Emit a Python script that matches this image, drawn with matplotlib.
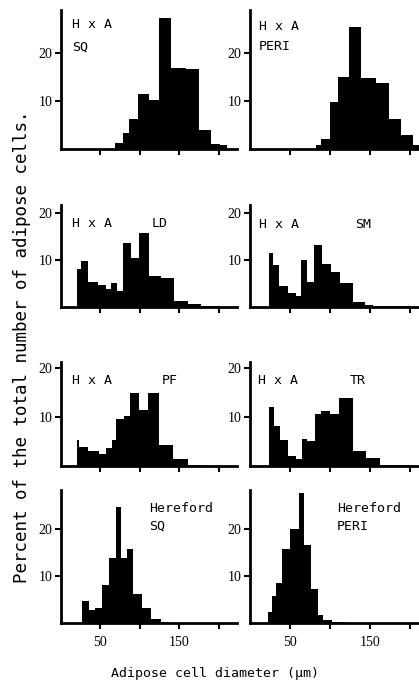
import matplotlib
matplotlib.use('Agg')
from matplotlib import pyplot as plt

FIG_W = 419
FIG_H = 685

# Bin edges (um) and percent of cells for every panel.
hxa_sq_edges = [68, 78.5, 86, 98, 111, 124, 139, 158.5, 175, 190, 201, 210]
hxa_sq_pct = [1.2, 3.3, 6.3, 11.4, 10.3, 27.4, 17.0, 16.6, 4.0, 1.0, 0.8]

hxa_peri_edges = [82, 89, 100, 110, 124, 139, 157.5, 174, 189, 203, 212]
hxa_peri_pct = [0.9, 2.0, 9.8, 15.0, 25.4, 14.9, 13.85, 6.2, 3.0, 0.9]

hxa_ld_edges = [20, 25.6, 34, 47, 56.4, 62.8, 70.5, 79, 88.5, 98.3, 111, 127, 142.7, 161, 178, 202]
hxa_ld_pct = [8.0, 9.8, 5.3, 4.7, 3.9, 5.1, 3.3, 13.7, 10.35, 15.8, 6.6, 6.1, 1.2, 0.6, 0.3]

hxa_sm_edges = [23.2, 29.1, 36.6, 47, 57.5, 63.8, 71, 80.5, 90.2, 101.5, 112, 128, 144, 154, 200]
hxa_sm_pct = [11.5, 8.85, 4.5, 2.9, 2.4, 9.9, 5.4, 13.1, 9.2, 7.5, 5.2, 1.05, 0.35, 0.2]

hxa_pf_edges = [20, 23, 34, 48.7, 56.4, 64, 70, 80.3, 87.2, 99, 110.3, 124.8, 141.9, 161, 178]
hxa_pf_pct = [5.4, 3.9, 3.1, 2.5, 3.6, 5.4, 9.5, 10.2, 14.9, 11.5, 14.9, 4.3, 1.5, 0.3]

hxa_tr_edges = [24, 29.4, 37.4, 47.9, 57.6, 65.1, 71, 80.7, 88.2, 99.6, 110.9, 128.2, 144.5, 162.6, 200]
hxa_tr_pct = [12.1, 8.2, 5.2, 2.0, 1.5, 5.6, 5.1, 10.5, 11.3, 10.5, 13.8, 3.1, 1.7, 0.25]

her_sq_edges = [26.8, 36, 42.8, 52, 61.4, 70, 76.6, 83.8, 91, 102.7, 114.6, 127, 136.5]
her_sq_pct = [4.7, 2.7, 3.2, 8.1, 13.9, 24.6, 13.8, 15.8, 6.1, 3.2, 0.85, 0.3]

her_peri_edges = [23, 27, 33, 39.6, 50, 61.25, 67.5, 75.8, 85, 91.7, 103, 120]
her_peri_pct = [2.4, 5.8, 8.6, 15.7, 20.0, 27.7, 16.5, 7.2, 1.65, 0.7, 0.25]

x_ticks = [50, 100, 150, 200]
x_tick_labels = ['50', '', '150', '']
y_ticks = [10, 20]

# Panel labels: (line 1, line 2 or None, tissue tag or None)
panel_text = [
    ('H x A', 'SQ', None), ('H x A', 'PERI', None),
    ('H x A', None, 'LD'), ('H x A', None, 'SM'),
    ('H x A', None, 'PF'), ('H x A', None, 'TR'),
    ('Hereford', 'SQ', None), ('Hereford', 'PERI', None),
]

MONO = 'DejaVu Sans Mono'
SERIF = 'Liberation Serif'


def px_axes(fig, x0, x1, ytop, ybot):
    """Add axes from pixel coordinates (origin top-left)."""
    return fig.add_axes([x0 / FIG_W, 1 - ybot / FIG_H, (x1 - x0) / FIG_W, (ybot - ytop) / FIG_H])


def ftext(fig, x, y, s, **kw):
    fig.text(x / FIG_W, 1 - y / FIG_H, s, **kw)


fig = plt.figure(figsize=(FIG_W / 100, FIG_H / 100), dpi=100)

# pixel geometry of the rows: (top, baseline, ymax)
rows = [(10, 149, 29.0), (205, 307, 21.7), (362, 466, 21.2), (490, 623, 28.3)]
cols = [(61, 237, 223), (250, 419, 211)]

data = [
    (hxa_sq_edges, hxa_sq_pct), (hxa_peri_edges, hxa_peri_pct),
    (hxa_ld_edges, hxa_ld_pct), (hxa_sm_edges, hxa_sm_pct),
    (hxa_pf_edges, hxa_pf_pct), (hxa_tr_edges, hxa_tr_pct),
    (her_sq_edges, her_sq_pct), (her_peri_edges, her_peri_pct),
]

for i, (edges, pct) in enumerate(data):
    r, c = divmod(i, 2)
    top, base, ymax = rows[r]
    x0, x1, xmax = cols[c]
    ax = px_axes(fig, x0, x1, top, base)
    ax.stairs(pct, edges, fill=True, color='black', linewidth=0)
    ax.set_xlim(0, xmax)
    ax.set_ylim(0, ymax)
    for side in ['top', 'right']:
        ax.spines[side].set_visible(False)
    for side in ['left', 'bottom']:
        ax.spines[side].set_linewidth(2)
    ax.set_xticks(x_ticks)
    if r == 3:
        ax.set_xticklabels(x_tick_labels, fontsize=10, family=SERIF)
    else:
        ax.set_xticklabels([])
    ax.set_yticks(y_ticks)
    ax.set_yticklabels([str(t) for t in y_ticks], fontsize=10, family=SERIF)
    ax.tick_params(direction='out', length=4, width=1.5, pad=2)
    ax.tick_params(axis='x', pad=5)

# Panel annotations (pixel positions)
text_pos = [
    (72, 25, 47, None), (259, 27, 47, None),
    (72, 223, None, 152), (259, 224, None, 355),
    (72, 380, None, 162), (258, 381, None, 350),
    (149, 509, 526, None), (337, 509, 526, None),
]
for (l1, l2, tag), (x, y1, y2, xt) in zip(panel_text, text_pos):
    ftext(fig, x, y1, l1, family=MONO, fontsize=9.5, va='center')
    if l2 is not None:
        ftext(fig, x, y2, l2, family=MONO, fontsize=9.5, va='center')
    if tag is not None:
        ftext(fig, xt, y1, tag, family=MONO, fontsize=9.5, va='center')

# Shared axis labels
ftext(fig, 215, 673, 'Adipose cell diameter (\u03bcm)', family=MONO, fontsize=9.5, ha='center', va='center')
ftext(fig, 22, 347, 'Percent of the total number of adipose cells.', family=MONO, fontsize=12.6,
      rotation=90, ha='center', va='center')

plt.savefig('out.png', dpi=100)
